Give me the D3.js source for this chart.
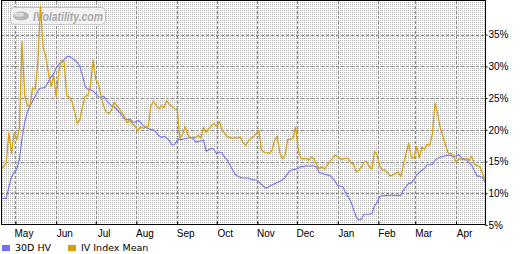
<!DOCTYPE html>
<html>
<head>
<meta charset="utf-8">
<script src="https://cdnjs.cloudflare.com/ajax/libs/d3/7.8.5/d3.min.js"></script>
<style>
  html, body { margin: 0; padding: 0; background: #fff; }
  svg { display: block; font-family: "DejaVu Sans", Verdana, sans-serif; }
</style>
</head>
<body>
<svg id="chart" width="526" height="254"></svg>
<script>
//============================================================
// Data (one reading every 2 calendar days from startDate)
//------------------------------------------------------------

var startDate = "2010-04-20";
var stepDays = 2;

var hvValues = [
    9.2, 9.2, 9.2, 11.0, 12.6, 13.3, 13.8, 15.4, 18.7, 21.1,
    22.8, 23.7, 24.5, 25.3, 26.1, 26.6, 26.6, 26.8, 27.6, 28.3,
    28.8, 29.8, 30.3, 30.7, 31.1, 31.5, 31.6, 31.3, 31.0, 30.6,
    30.0, 28.5, 26.8, 26.4, 26.3, 26.1, 25.7, 25.2, 25.1, 25.3,
    24.7, 24.2, 23.8, 23.6, 23.2, 22.8, 22.2, 21.7, 21.6, 21.7,
    21.2, 21.2, 21.5, 21.2, 20.7, 20.4, 20.2, 20.0, 20.0, 19.6,
    19.1, 18.8, 19.0, 18.7, 18.3, 17.6, 17.7, 18.4, 18.5, 18.5,
    18.6, 18.7, 18.8, 18.6, 18.1, 18.1, 18.3, 18.4, 16.6, 16.9,
    17.1, 16.9, 16.2, 16.5, 16.4, 15.7, 15.3, 14.5, 13.7, 13.0,
    12.7, 12.5, 12.4, 12.4, 12.4, 12.2, 12.1, 12.1, 11.8, 11.4,
    11.0, 10.8, 11.1, 11.3, 11.5, 11.7, 11.9, 12.1, 12.5, 13.1,
    13.6, 13.7, 13.8, 13.9, 14.2, 14.2, 14.3, 14.3, 14.3, 14.3,
    14.1, 13.2, 13.2, 13.0, 12.9, 12.8, 12.4, 11.9, 11.2, 11.1,
    11.0, 10.1, 9.4, 8.7, 7.5, 6.3, 5.8, 5.9, 6.7, 6.7,
    6.7, 6.8, 8.0, 8.6, 9.5, 9.6, 9.6, 9.7, 9.7, 9.7,
    9.7, 9.6, 9.7, 10.5, 11.0, 11.6, 11.6, 12.1, 12.9, 13.3,
    13.6, 13.9, 14.5, 14.5, 14.5, 15.2, 15.5, 15.7, 15.8, 15.9,
    16.0, 16.0, 15.7, 15.9, 16.1, 15.6, 15.4, 15.2, 14.8, 14.4,
    13.5, 12.7, 12.7, 12.5, 11.8
];

var ivValues = [
    13.7, 14.2, 14.8, 19.5, 16.3, 19.5, 18.4, 20.3, 33.9, 25.5,
    23.8, 23.7, 26.6, 26.4, 30.5, 39.5, 33.0, 31.7, 29.0, 26.8,
    28.5, 25.2, 29.2, 30.9, 30.7, 25.3, 25.1, 24.5, 22.8, 21.0,
    21.6, 23.7, 25.3, 25.4, 27.0, 31.0, 27.9, 27.4, 25.3, 23.8,
    22.8, 22.6, 23.1, 24.4, 23.8, 23.3, 22.7, 22.0, 21.1, 21.5,
    20.9, 20.6, 19.8, 20.5, 20.2, 20.5, 20.5, 23.8, 24.5, 23.8,
    23.3, 23.8, 23.5, 24.6, 24.0, 23.7, 23.3, 23.2, 18.7, 19.3,
    20.5, 19.3, 18.7, 18.8, 18.8, 19.1, 18.7, 20.4, 19.6, 20.2,
    20.7, 21.0, 20.5, 21.3, 20.0, 19.5, 18.9, 18.8, 18.6, 18.8,
    18.7, 18.9, 18.0, 17.5, 18.2, 18.7, 18.9, 19.4, 20.0, 16.8,
    16.5, 16.4, 16.3, 16.7, 18.3, 19.0, 16.4, 15.4, 16.0, 18.5,
    18.5, 18.7, 20.4, 16.9, 15.5, 15.4, 15.5, 15.2, 15.7, 15.4,
    14.5, 13.9, 14.2, 13.8, 14.4, 15.0, 15.5, 16.0, 15.8, 15.4,
    15.4, 15.5, 15.5, 14.8, 14.6, 13.4, 13.6, 14.1, 14.9, 15.0,
    14.2, 13.8, 16.6, 16.0, 14.3, 13.7, 13.7, 13.2, 12.7, 12.9,
    13.1, 13.4, 12.6, 14.5, 16.2, 17.9, 15.6, 15.5, 17.4, 15.6,
    17.3, 16.9, 17.7, 17.6, 19.3, 24.2, 22.5, 20.3, 18.9, 17.6,
    16.3, 16.3, 16.0, 14.9, 15.4, 15.4, 15.3, 15.5, 15.2, 15.8,
    14.6, 14.3, 14.2, 13.2, 12.1
];

var yTicks = [5, 10, 15, 20, 25, 30, 35];
var monthLabels = ["May", "Jun", "Jul", "Aug", "Sep", "Oct", "Nov", "Dec", "Jan", "Feb", "Mar", "Apr"];
var seriesNames = ["30D HV", "IV Index Mean"];

//============================================================
// Layout
//------------------------------------------------------------

var plot = { left: 1, top: 1, right: 485, bottom: 225 };
var colors = ["#7070f8", "#d9a00e"];

var svg = d3.select("#chart");

var t0 = d3.utcParse("%Y-%m-%d")(startDate);
var dates = hvValues.map(function(d, i) { return d3.utcDay.offset(t0, i * stepDays); });

var x = d3.scaleUtc()
    .domain([t0, dates[dates.length - 1]])
    .range([plot.left, plot.right]);

var y = d3.scaleLinear()
    .domain([5, 40.3])
    .range([plot.bottom, plot.top]);

var months = d3.utcMonth.range(d3.utcDay.offset(t0, 1), dates[dates.length - 1]);

// dotted background
var defs = svg.append("defs");
var pat = defs.append("pattern")
    .attr("id", "dots")
    .attr("width", 2)
    .attr("height", 2)
    .attr("patternUnits", "userSpaceOnUse");
pat.append("rect").attr("width", 2).attr("height", 2).attr("fill", "#fff");
pat.append("rect").attr("width", 1).attr("height", 1).attr("fill", "#b2b2b2");

defs.append("clipPath").attr("id", "clip")
    .append("rect")
    .attr("x", plot.left).attr("y", plot.top)
    .attr("width", plot.right - plot.left).attr("height", plot.bottom - plot.top);

svg.append("rect")
    .attr("x", plot.left).attr("y", plot.top)
    .attr("width", plot.right - plot.left).attr("height", plot.bottom - plot.top)
    .attr("fill", "url(#dots)");

// grid
var grid = svg.append("g").attr("class", "grid")
    .attr("stroke", "#8a8a8a")
    .attr("stroke-dasharray", "3,2");

grid.selectAll("line.h")
    .data(yTicks.slice(1))
    .enter().append("line")
    .attr("class", "h")
    .attr("x1", plot.left).attr("x2", plot.right)
    .attr("y1", function(d) { return Math.round(y(d)) + 0.5; })
    .attr("y2", function(d) { return Math.round(y(d)) + 0.5; });

grid.selectAll("line.v")
    .data(months)
    .enter().append("line")
    .attr("class", "v")
    .attr("y1", plot.top).attr("y2", plot.bottom)
    .attr("x1", function(d) { return Math.round(x(d)) + 0.5; })
    .attr("x2", function(d) { return Math.round(x(d)) + 0.5; });

// watermark
var wm = svg.append("g").attr("class", "watermark");
wm.append("rect")
    .attr("x", 10.5).attr("y", 7.5)
    .attr("width", 95).attr("height", 17)
    .attr("rx", 4)
    .attr("fill", "#f2f2f2")
    .attr("stroke", "#c4c4c4");
wm.append("ellipse")
    .attr("cx", 21).attr("cy", 16)
    .attr("rx", 8).attr("ry", 4.5)
    .attr("fill", "#b8b8b8");
wm.append("ellipse")
    .attr("cx", 19).attr("cy", 14.5)
    .attr("rx", 5).attr("ry", 2)
    .attr("fill", "#dcdcdc");
wm.append("text")
    .attr("x", 33).attr("y", 20.5)
    .attr("textLength", 70)
    .attr("lengthAdjust", "spacingAndGlyphs")
    .style("font-family", "'Liberation Sans', Arial, sans-serif")
    .style("font-size", "12px")
    .style("font-weight", "bold")
    .style("font-style", "italic")
    .attr("fill", "#a9a9a9")
    .text("IVolatility.com");

// lines
var line = d3.line()
    .x(function(d) { return x(d.date); })
    .y(function(d) { return y(d.value); });

var series = [hvValues, ivValues].map(function(vals) {
    return vals.map(function(v, i) { return { date: dates[i], value: v }; });
});

svg.append("g")
    .attr("clip-path", "url(#clip)")
    .selectAll("path")
    .data(series)
    .enter().append("path")
    .attr("d", line)
    .attr("fill", "none")
    .attr("stroke", function(d, i) { return colors[i]; })
    .attr("stroke-width", function(d, i) { return i == 1 ? 1.3 : 1.1; })
    .attr("stroke-linejoin", "round");

// frame
svg.append("rect")
    .attr("x", plot.left + 0.5).attr("y", plot.top - 0.5)
    .attr("width", plot.right - plot.left).attr("height", plot.bottom - plot.top)
    .attr("fill", "none")
    .attr("stroke", "#000");

// right axis
var yAxis = svg.append("g")
    .attr("transform", "translate(" + (plot.right + 0.5) + ",0)")
    .call(d3.axisRight(y)
        .tickValues(yTicks)
        .tickFormat(function(d) { return d + "%"; })
        .tickSize(2)
        .tickPadding(1));
yAxis.select(".domain").remove();
yAxis.selectAll("text").style("font-size", "10px").style("font-family", null).attr("fill", "#000");

// bottom axis
var xAxis = svg.append("g")
    .attr("transform", "translate(0," + (plot.bottom - 0.5) + ")")
    .call(d3.axisBottom(x)
        .tickValues(months)
        .tickFormat(function(d, i) { return monthLabels[i]; })
        .tickSize(-3));
xAxis.select(".domain").remove();
xAxis.selectAll("text")
    .attr("x", 8)
    .attr("y", 5)
    .style("font-size", "10px")
    .style("font-family", null)
    .attr("fill", "#000");

// legend
var legend = svg.append("g").attr("class", "legend");
var legendX = [2, 68];
seriesNames.forEach(function(name, i) {
    legend.append("rect")
        .attr("x", legendX[i]).attr("y", 245)
        .attr("width", 8).attr("height", 6)
        .attr("fill", colors[i]);
    legend.append("text")
        .attr("x", legendX[i] + 13).attr("y", 251)
        .style("font-size", "9.5px")
        .attr("fill", "#000")
        .text(name);
});
</script>
</body>
</html>
